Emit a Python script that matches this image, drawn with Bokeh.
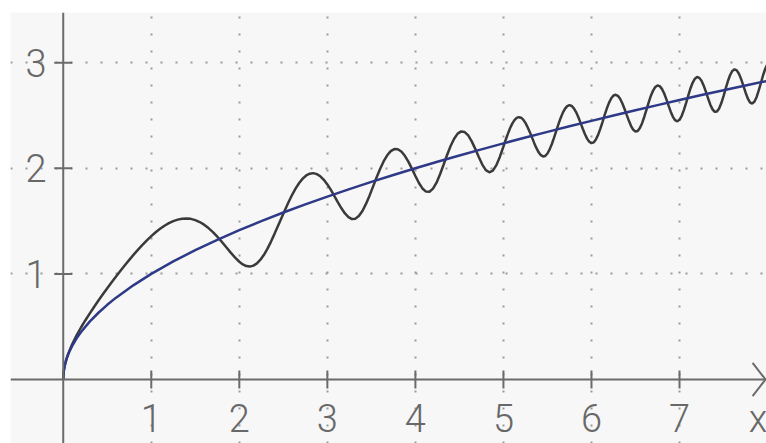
from math import pi
from bokeh.plotting import figure
from bokeh.models import Range1d, Grid, FixedTicker, Span
from bokeh.core.properties import value
from bokeh.embed import file_html
from bokeh.resources import INLINE

# ---------------- data ----------------
x_ticks = [1, 2, 3, 4, 5, 6, 7]
x_labels = ["1", "2", "3", "4", "5", "6", "7"]
y_ticks = [1, 2, 3]
y_labels = ["1", "2", "3"]
axis_name = "x"

# oscillating (black) curve
black_x = [
    0, 0.005, 0.01, 0.02, 0.03,
    0.05, 0.1, 0.15, 0.2, 0.25, 0.3, 0.35, 0.4, 0.45, 0.5,
    0.55, 0.6, 0.65, 0.7, 0.75, 0.8, 0.85, 0.9, 0.95, 1.0,
    1.05, 1.1, 1.15, 1.2, 1.25, 1.3, 1.35, 1.4, 1.45, 1.5,
    1.55, 1.6, 1.65, 1.7, 1.75, 1.8, 1.85, 1.9, 1.95,
    2.0, 2.04, 2.08, 2.12, 2.16, 2.2, 2.24, 2.28, 2.32, 2.36,
    2.4, 2.44, 2.48, 2.52, 2.56, 2.6, 2.64, 2.68, 2.72, 2.76,
    2.8, 2.84, 2.88, 2.92, 2.96, 3.0, 3.04, 3.08, 3.12, 3.16,
    3.2, 3.24, 3.28, 3.32, 3.36, 3.4, 3.44, 3.48, 3.52, 3.56,
    3.6, 3.64, 3.68, 3.72, 3.76, 3.8, 3.84, 3.88, 3.92, 3.96,
    4.0, 4.04, 4.08, 4.12, 4.16, 4.2, 4.24, 4.28, 4.32, 4.36,
    4.4, 4.44, 4.48, 4.52, 4.56, 4.6, 4.64, 4.68, 4.72, 4.76,
    4.8, 4.84, 4.88, 4.92, 4.96,
    5.0, 5.025, 5.05, 5.075, 5.1, 5.125, 5.15, 5.175, 5.2, 5.225,
    5.25, 5.275, 5.3, 5.325, 5.35, 5.375, 5.4, 5.425, 5.45, 5.475,
    5.5, 5.525, 5.55, 5.575, 5.6, 5.625, 5.65, 5.675, 5.7, 5.725,
    5.75, 5.775, 5.8, 5.825, 5.85, 5.875, 5.9, 5.925, 5.95, 5.975,
    6.0, 6.025, 6.05, 6.075, 6.1, 6.125, 6.15, 6.175, 6.2, 6.225,
    6.25, 6.275, 6.3, 6.325, 6.35, 6.375, 6.4, 6.425, 6.45, 6.475,
    6.5, 6.525, 6.55, 6.575, 6.6, 6.625, 6.65, 6.675, 6.7, 6.725,
    6.75, 6.775, 6.8, 6.825, 6.85, 6.875, 6.9, 6.925, 6.95, 6.975,
    7.0, 7.025, 7.05, 7.075, 7.1, 7.125, 7.15, 7.175, 7.2, 7.225,
    7.25, 7.275, 7.3, 7.325, 7.35, 7.375, 7.4, 7.425, 7.45, 7.475,
    7.5, 7.525, 7.55, 7.575, 7.6, 7.625, 7.65, 7.675, 7.7, 7.725,
    7.75, 7.775, 7.8, 7.825, 7.85, 7.875, 7.9, 7.925, 7.95, 7.975,
    8.0,
]
black_y = [
    0.0, 0.071, 0.1, 0.143, 0.176,
    0.229, 0.332, 0.415, 0.49, 0.559, 0.624, 0.687, 0.748, 0.807, 0.865,
    0.921, 0.976, 1.03, 1.082, 1.133, 1.182, 1.229, 1.274, 1.317, 1.357,
    1.394, 1.427, 1.456, 1.48, 1.5, 1.514, 1.523, 1.525, 1.521, 1.509,
    1.491, 1.466, 1.434, 1.396, 1.352, 1.305, 1.254, 1.204, 1.156,
    1.115, 1.09, 1.074, 1.069, 1.078, 1.099, 1.134, 1.181, 1.239, 1.306,
    1.379, 1.455, 1.532, 1.608, 1.681, 1.749, 1.809, 1.861, 1.902, 1.932,
    1.949, 1.954, 1.945, 1.924, 1.891, 1.847, 1.795, 1.737, 1.678, 1.621,
    1.572, 1.537, 1.519, 1.523, 1.55, 1.598, 1.665, 1.743, 1.829, 1.915,
    1.996, 2.067, 2.123, 2.162, 2.182, 2.18, 2.159, 2.118, 2.063, 1.997,
    1.927, 1.861, 1.809, 1.779, 1.778, 1.807, 1.864, 1.943, 2.033, 2.126,
    2.211, 2.28, 2.328, 2.349, 2.343, 2.311, 2.255, 2.184, 2.106, 2.035,
    1.983, 1.962, 1.978, 2.03, 2.11,
    2.206, 2.268, 2.326, 2.379, 2.423, 2.456, 2.477, 2.484, 2.479, 2.46,
    2.43, 2.389, 2.342, 2.29, 2.238, 2.19, 2.151, 2.124, 2.112, 2.117,
    2.14, 2.179, 2.23, 2.29, 2.355, 2.418, 2.477, 2.527, 2.565, 2.589,
    2.598, 2.59, 2.568, 2.532, 2.486, 2.432, 2.377, 2.325, 2.281, 2.251,
    2.238, 2.245, 2.272, 2.316, 2.373, 2.438, 2.505, 2.568, 2.622, 2.663,
    2.689, 2.696, 2.686, 2.658, 2.616, 2.564, 2.506, 2.449, 2.4, 2.364,
    2.348, 2.353, 2.381, 2.427, 2.488, 2.556, 2.624, 2.687, 2.736, 2.77,
    2.784, 2.778, 2.752, 2.71, 2.655, 2.595, 2.536, 2.487, 2.455, 2.445,
    2.459, 2.497, 2.553, 2.62, 2.691, 2.758, 2.812, 2.848, 2.864, 2.856,
    2.828, 2.782, 2.723, 2.661, 2.602, 2.558, 2.534, 2.537, 2.566, 2.618,
    2.684, 2.757, 2.826, 2.883, 2.922, 2.937, 2.927, 2.895, 2.844, 2.782,
    2.718, 2.662, 2.624, 2.613, 2.63, 2.673, 2.737, 2.81, 2.883, 2.945,
    2.987,
]

# smooth (blue) curve
blue_x = [0, 0.005, 0.01, 0.02, 0.04, 0.07, 0.1, 0.15, 0.2, 0.3, 0.4, 0.5, 0.6, 0.8,
          1.0, 1.25, 1.5, 1.75, 2.0, 2.25, 2.5, 2.75, 3.0, 3.25, 3.5, 3.75, 4.0, 4.25,
          4.5, 4.75, 5.0, 5.25, 5.5, 5.75, 6.0, 6.25, 6.5, 6.75, 7.0, 7.25, 7.5, 7.75, 8.0]
blue_y = [0.0, 0.071, 0.1, 0.141, 0.2, 0.265, 0.316, 0.387, 0.447, 0.548, 0.632, 0.707, 0.775, 0.894,
          1.0, 1.118, 1.225, 1.323, 1.414, 1.5, 1.581, 1.658, 1.732, 1.803, 1.871, 1.936, 2.0, 2.062,
          2.121, 2.179, 2.236, 2.291, 2.345, 2.398, 2.449, 2.5, 2.55, 2.598, 2.646, 2.693, 2.739, 2.784, 2.828]

# ---------------- styling ----------------
FONT = "Roboto Light, Roboto"
AXIS_COLOR = "#6b6b6b"
TEXT_COLOR = "#686868"
GRID_COLOR = "#9a9a9a"

X0, X1 = -0.599, 7.988
Y0, Y1 = -0.606, 3.475

p = figure(width=766, height=443,
           x_range=Range1d(X0, X1), y_range=Range1d(Y0, Y1),
           x_axis_type=None, y_axis_type=None,
           toolbar_location=None, output_backend="svg",
           min_border_left=10, min_border_top=12, min_border_right=0, min_border_bottom=0)
p.background_fill_color = "#f7f7f7"
p.border_fill_color = "white"
p.outline_line_color = None

p.add_layout(Grid(dimension=0, ticker=FixedTicker(ticks=x_ticks),
                  grid_line_color=GRID_COLOR, grid_line_width=2, grid_line_dash="2 15"))
p.add_layout(Grid(dimension=1, ticker=FixedTicker(ticks=y_ticks),
                  grid_line_color=GRID_COLOR, grid_line_width=2, grid_line_dash="2 13"))

# axis lines through the origin
p.add_layout(Span(location=0, dimension="width", line_color=AXIS_COLOR, line_width=2))
p.add_layout(Span(location=0, dimension="height", line_color=AXIS_COLOR, line_width=2))

# arrow head at the right end of the x axis
p.line(x=[7.83, 7.977, 7.83], y=[0.158, 0, -0.158], line_color=AXIS_COLOR, line_width=2)

# tick marks crossing the axes
p.scatter(x=x_ticks, y=[0] * len(x_ticks), marker="dash", size=18, angle=pi / 2,
          line_color=AXIS_COLOR, line_width=2)
p.scatter(x=[0] * len(y_ticks), y=y_ticks, marker="dash", size=18,
          line_color=AXIS_COLOR, line_width=2)

# curves
p.line(black_x, black_y, line_color="#3a3a3a", line_width=2.5)
p.line(blue_x, blue_y, line_color="#2e3a87", line_width=2.5)

# tick labels
p.text(x=x_ticks, y=[-0.365] * len(x_ticks), text=x_labels,
       text_font=value(FONT), text_font_size="38px", text_color=TEXT_COLOR,
       text_align="center", text_baseline="middle")
p.text(x=[-0.309] * len(y_ticks), y=y_ticks, text=y_labels,
       text_font=value(FONT), text_font_size="38px", text_color=TEXT_COLOR,
       text_align="center", text_baseline="middle")
p.text(x=[7.892], y=[-0.37], text=[axis_name],
       text_font=value(FONT), text_font_size="38px", text_color=TEXT_COLOR,
       text_align="center", text_baseline="middle")

open("out.html", "w").write(file_html(p, INLINE))
